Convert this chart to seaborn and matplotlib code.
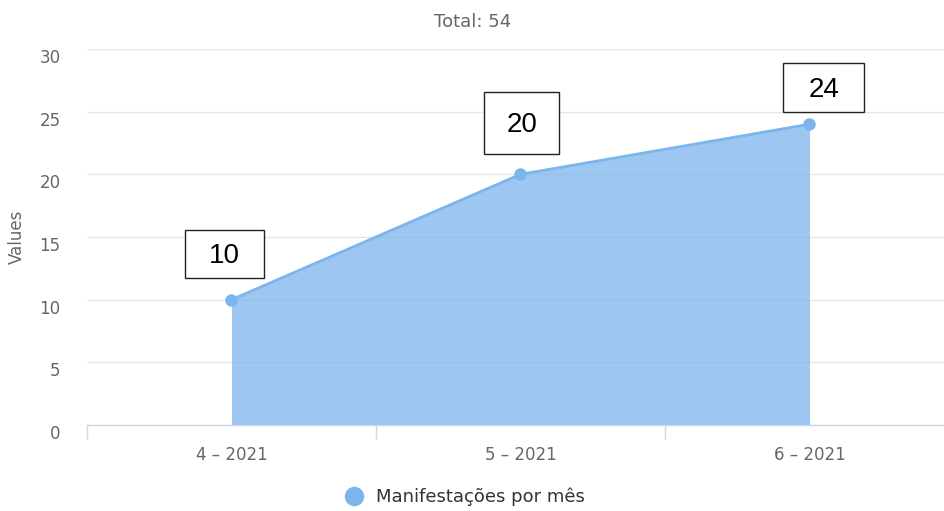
import matplotlib
matplotlib.use("Agg")
import matplotlib.pyplot as plt
import matplotlib.transforms as mtransforms
from matplotlib.patches import Rectangle
from matplotlib.lines import Line2D
import seaborn as sns
import pandas as pd

# Monthly counts
months = ["4 – 2021", "5 – 2021", "6 – 2021"]
counts = [10, 20, 24]
series_name = "Manifestações por mês"
y_ticks = [0, 5, 10, 15, 20, 25, 30]

# Value-label boxes: offset of box centre from the point and box size (pixels)
box_offsets = [(-7, 46), (1.5, 51), (14.5, 36.5)]
box_sizes = [(78, 48), (75, 62), (81, 49)]

LINE = "#7cb5ec"
GRID = "#e6e6e6"
AXIS = "#ccd6eb"
TICK_TXT = "#666666"

sns.set_theme(style="white")
plt.rcParams["font.family"] = ["DejaVu Sans"]

fig = plt.figure(figsize=(9.45, 5.11), dpi=100)
W, H = 945, 511
ax = fig.add_axes([87 / W, 1 - 425 / H, (945 - 87) / W, (425 - 49) / H])

df = pd.DataFrame({"month": months, "count": counts})
positions = list(range(len(months)))

ax.fill_between(positions, 0, counts, color=LINE, alpha=0.75, linewidth=0, zorder=2)
sns.lineplot(data=df, x="month", y="count", ax=ax, color=LINE, linewidth=2,
             marker="o", markersize=9, markeredgewidth=0, zorder=3, sort=False)

ax.set_xlim(-0.5, (945 - 87) / 289 - 0.5)
ax.set_ylim(0, 30)

# grid and axes
ax.set_yticks(y_ticks)
ax.yaxis.grid(True, color=GRID, linewidth=1)
ax.set_axisbelow(True)
for side in ["left", "right", "top"]:
    ax.spines[side].set_visible(False)
ax.spines["bottom"].set_color(AXIS)
ax.spines["bottom"].set_linewidth(1)
ax.spines["bottom"].set_zorder(4)

ax.set_xticks(positions)
ax.set_xticklabels(months)
ax.set_xticks([p - 0.5 for p in positions], minor=True)
ax.tick_params(axis="x", which="major", length=0, pad=15, labelsize=12,
               labelcolor=TICK_TXT)
ax.tick_params(axis="x", which="minor", length=10, width=1, color=AXIS,
               direction="out", bottom=True)
ax.tick_params(axis="y", length=0, pad=19, labelsize=12, labelcolor=TICK_TXT)
for lab in ax.get_yticklabels():
    lab.set_transform(lab.get_transform() +
                      mtransforms.ScaledTranslation(0, -7 / 100, fig.dpi_scale_trans))

ax.set_xlabel("")
ax.set_ylabel("Values", fontsize=12, color=TICK_TXT)
ax.yaxis.set_label_coords((26 - 87) / 858, 0.5)

fig.text(0.5, 1 - 22 / H, "Total: 54", ha="center", va="center",
         fontsize=13, color=TICK_TXT)

# value labels in boxes
fig.canvas.draw()
for i, v in enumerate(counts):
    px, py = ax.transData.transform((i, v))
    dx, dy = box_offsets[i]
    bw, bh = box_sizes[i]
    cx, cy = px + dx, py + dy
    rect = Rectangle((cx - bw / 2, cy - bh / 2), bw, bh, transform=None,
                     facecolor="white", edgecolor="#222222", linewidth=1, zorder=6)
    fig.add_artist(rect)
    fig.text(cx / W, (cy - 2) / H, str(v), ha="center", va="center",
             fontsize=20, family="Liberation Sans", color="black", zorder=7)

handle = Line2D([], [], marker="o", linestyle="", color=LINE, markersize=14,
                markeredgewidth=0)
leg = fig.legend([handle], [series_name], loc="center",
                 bbox_to_anchor=(464 / W, 1 - 497 / H), frameon=False,
                 fontsize=13, handletextpad=0.6, handlelength=1.2)
for t in leg.get_texts():
    t.set_color("#333333")

fig.savefig("out.png", dpi=100)
